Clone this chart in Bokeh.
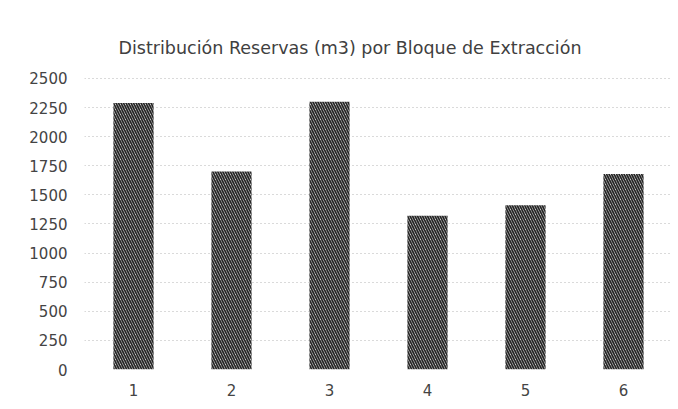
from bokeh.plotting import figure
from bokeh.models import Range1d
from bokeh.embed import file_html
from bokeh.resources import INLINE

bloques = ["1", "2", "3", "4", "5", "6"]
reservas = [2290, 1700, 2300, 1320, 1410, 1680]
y_ticks = [0, 250, 500, 750, 1000, 1250, 1500, 1750, 2000, 2250, 2500]

p = figure(x_range=bloques, y_range=Range1d(0, 2508), width=676, height=400,
           output_backend="svg", toolbar_location=None,
           title="Distribución Reservas (m3) por Bloque de Extracción",
           min_border_left=84, min_border_right=4, min_border_top=77, min_border_bottom=31)

p.vbar(x=bloques, top=reservas, width=0.41, fill_color="white", line_color=None,
       hatch_pattern="\\", hatch_color="#262626", hatch_scale=5, hatch_weight=1.8)

p.title.align = "left"
p.title.offset = 34
p.title.text_font = "DejaVu Sans"
p.title.text_font_size = "17.5px"
p.title.text_font_style = "normal"
p.title.text_color = "#404040"
p.title.standoff = 39

p.yaxis.ticker = y_ticks
for ax in (p.xaxis, p.yaxis):
    ax.axis_line_color = None
    ax.major_tick_line_color = None
    ax.minor_tick_line_color = None
    ax.major_label_text_font = "DejaVu Sans"
    ax.major_label_text_font_size = "15px"
    ax.major_label_text_color = "#444444"
p.yaxis.major_label_standoff = 11
p.xaxis.major_label_standoff = 8

p.xgrid.grid_line_color = None
p.ygrid.grid_line_color = "#b5b5b5"
p.ygrid.grid_line_dash = "1 3"
p.outline_line_color = None
p.x_range.range_padding = 0

open("out.html", "w").write(file_html(p, INLINE))
